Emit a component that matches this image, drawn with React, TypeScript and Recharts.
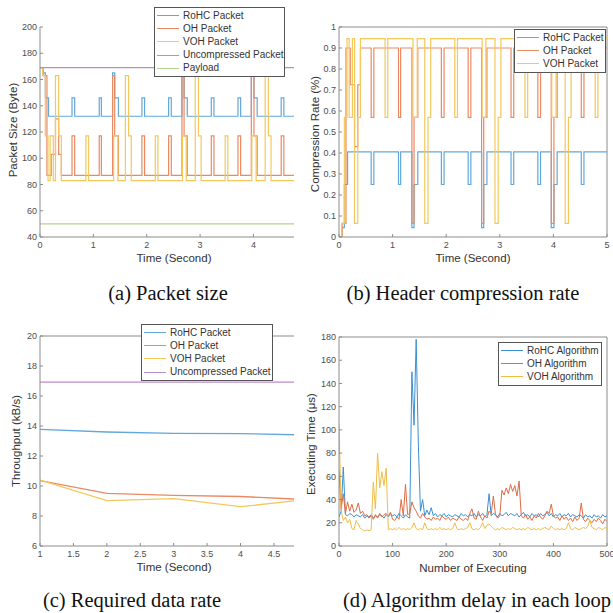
import React from "react";
import { LineChart, Line, XAxis, YAxis, ReferenceLine } from "recharts";

const SANS = '"Liberation Sans", Arial, Helvetica, sans-serif';
const SERIF = '"Liberation Serif", "Times New Roman", serif';

const BLUE = "#62a8db";
const ORANGE = "#e98a62";
const YELLOW = "#f4c85c";
const PURPLE = "#bb8ccb";
const GREEN = "#b3d38e";
const BLUE_D = "#3b8fd0";
const ORANGE_D = "#dd6c45";
const YELLOW_D = "#efbd45";
const AXIS = "#8c8c8c";
const TICK = "#4d4d4d";

// (a) + (b): step breakpoints (time in seconds)
const ROHC_T = [0, 0.05, 0.1, 0.16, 0.6, 0.65, 1.11, 1.15, 1.36, 1.4, 1.47, 1.91, 1.96, 2.41, 2.46, 2.66, 2.7, 2.76, 3.21, 3.26, 3.71, 3.76, 3.96, 4.01, 4.07, 4.52, 4.57, 5];
const ROHC_SIZE = [169, 165, 146, 132, 146, 132, 146, 132, 165, 146, 132, 146, 132, 146, 132, 165, 146, 132, 146, 132, 146, 132, 165, 146, 132, 146, 132, 132];
const ROHC_RATE = [0, 0.045, 0.25, 0.405, 0.25, 0.405, 0.25, 0.405, 0.045, 0.25, 0.405, 0.25, 0.405, 0.25, 0.405, 0.045, 0.25, 0.405, 0.25, 0.405, 0.25, 0.405, 0.045, 0.25, 0.405, 0.25, 0.405, 0.405];

const OH_T = [0, 0.06, 0.13, 0.21, 0.29, 0.35, 0.4, 0.6, 0.65, 1.11, 1.15, 1.36, 1.4, 1.47, 1.91, 1.96, 2.41, 2.46, 2.66, 2.7, 2.76, 3.21, 3.26, 3.71, 3.76, 3.96, 4.01, 4.07, 4.52, 4.57, 5];
const OH_SIZE = [169, 163, 87, 103, 130, 103, 87, 117, 87, 117, 87, 163, 117, 87, 117, 87, 117, 87, 163, 117, 87, 117, 87, 117, 87, 163, 117, 87, 117, 87, 87];
const OH_RATE = [0, 0.065, 0.9, 0.725, 0.43, 0.725, 0.9, 0.57, 0.9, 0.57, 0.9, 0.065, 0.57, 0.9, 0.57, 0.9, 0.57, 0.9, 0.065, 0.57, 0.9, 0.57, 0.9, 0.57, 0.9, 0.065, 0.57, 0.9, 0.57, 0.9, 0.9];

const VOH_T = [0, 0.05, 0.1, 0.15, 0.19, 0.25, 0.29, 0.35, 0.4, 0.86, 0.91, 1.38, 1.46, 1.6, 1.66, 1.71, 2.16, 2.21, 2.67, 2.74, 2.91, 2.97, 3.02, 3.47, 3.52, 3.97, 4.05, 4.22, 4.28, 4.33, 4.78, 4.83, 5];
const VOH_SIZE = [169, 163, 117, 83, 117, 83, 163, 117, 83, 117, 83, 117, 83, 163, 117, 83, 117, 83, 117, 83, 163, 117, 83, 117, 83, 117, 83, 163, 117, 83, 117, 83, 83];
const VOH_RATE = [0, 0.065, 0.57, 0.945, 0.57, 0.945, 0.065, 0.57, 0.945, 0.57, 0.945, 0.57, 0.945, 0.065, 0.57, 0.945, 0.57, 0.945, 0.57, 0.945, 0.065, 0.57, 0.945, 0.57, 0.945, 0.57, 0.945, 0.065, 0.57, 0.945, 0.57, 0.945, 0.945];

const FLAT_T = [0, 5];
const UNCOMP_SIZE = [169, 169];
const PAYLOAD_SIZE = [50, 50];

// (c) throughput
const THR_T = [1, 2, 3, 4, 5];
const ROHC_THR = [13.78, 13.6, 13.51, 13.49, 13.4];
const OH_THR = [10.36, 9.51, 9.38, 9.3, 9.09];
const VOH_THR = [10.4, 9.02, 9.16, 8.62, 9.1];
const UNCOMP_THR = [16.93, 16.93, 16.93, 16.93, 16.93];

// (d) executing time, one value every 4 runs
const ROHC_EXEC = [
  25, 30, 68, 27, 26, 28, 27, 25, 27, 26,
  25, 27, 24, 26, 25, 27, 24, 26, 25, 27,
  26, 24, 27, 25, 28, 26, 27, 25, 28, 26,
  24, 27, 25, 24, 150, 104, 178, 88, 30, 40,
  26, 31, 27, 33, 26, 28, 25, 27, 26, 28,
  25, 27, 26, 25, 27, 26, 25, 28, 26, 27,
  25, 27, 26, 28, 25, 27, 26, 28, 25, 27,
  45, 26, 28, 27, 25, 28, 26, 27, 29, 26,
  28, 27, 26, 28, 25, 27, 29, 26, 27, 25,
  28, 26, 27, 25, 28, 26, 27, 29, 26, 28,
  25, 27, 26, 28, 25, 27, 26, 28, 25, 27,
  26, 25, 27, 26, 24, 27, 25, 26, 24, 27,
  25, 26, 24, 27, 25, 26,
];
const OH_EXEC = [
  65, 32, 45, 28, 38, 30, 36, 29, 31, 37,
  28, 30, 26, 27, 24, 26, 23, 27, 24, 28,
  25, 27, 28, 26, 29, 23, 22, 25, 23, 40,
  26, 53, 27, 28, 38, 33, 30, 26, 24, 28,
  25, 23, 24, 22, 25, 23, 24, 22, 26, 24,
  23, 25, 22, 24, 23, 22, 25, 23, 22, 24,
  22, 28, 32, 24, 23, 30, 25, 22, 26, 24,
  30, 28, 43, 27, 24, 26, 48, 44, 50, 45,
  53, 47, 52, 43, 56, 26, 24, 27, 23, 25,
  22, 26, 24, 28, 25, 23, 26, 30, 28, 36,
  26, 24, 25, 22, 26, 23, 25, 22, 24, 21,
  25, 22, 24, 37, 23, 21, 24, 22, 20, 23,
  21, 24, 22, 19, 23, 21,
];
const VOH_EXEC = [
  105, 30, 22, 25, 20, 23, 15, 14, 22, 19,
  15, 14, 13, 14, 13, 14, 55, 32, 80, 50,
  64, 52, 67, 14, 15, 14, 15, 14, 16, 14,
  15, 14, 15, 14, 16, 20, 15, 14, 15, 14,
  20, 15, 14, 15, 14, 15, 14, 16, 14, 15,
  14, 15, 14, 15, 20, 15, 14, 15, 14, 15,
  16, 20, 15, 14, 15, 14, 16, 20, 15, 18,
  19, 17, 15, 14, 15, 14, 16, 15, 14, 15,
  14, 16, 15, 14, 15, 14, 15, 14, 16, 15,
  14, 15, 14, 15, 14, 15, 16, 15, 14, 17,
  15, 14, 15, 14, 15, 14, 15, 20, 15, 14,
  16, 15, 14, 15, 16, 15, 17, 22, 16, 15,
  14, 16, 15, 14, 16, 15,
];
const EXEC_X = ROHC_EXEC.map((_, i) => i * 4);

const SIZE_TICKS = [40, 60, 80, 100, 120, 140, 160, 180, 200];
const RATE_TICKS = [0, 0.1, 0.2, 0.3, 0.4, 0.5, 0.6, 0.7, 0.8, 0.9, 1];
const TIME_TICKS = [0, 1, 2, 3, 4, 5];
const THR_X_TICKS = [1, 1.5, 2, 2.5, 3, 3.5, 4, 4.5];
const THR_Y_TICKS = [6, 8, 10, 12, 14, 16, 18, 20];
const EXEC_X_TICKS = [0, 100, 200, 300, 400, 500];
const EXEC_Y_TICKS = [0, 20, 40, 60, 80, 100, 120, 140, 160, 180];

const pts = (xs: number[], ys: number[]) => xs.map((x, i) => ({ x, y: ys[i] }));

const execData = EXEC_X.map((x, i) => ({
  x,
  rohc: ROHC_EXEC[i],
  oh: OH_EXEC[i],
  voh: VOH_EXEC[i],
}));

const tickStyle = { fill: TICK, fontSize: 9, fontFamily: SANS };

// axes get 1px of size (0 makes recharts skip them); margins absorb the rest
const xAxisProps = {
  type: "number" as const,
  dataKey: "x",
  height: 1,
  stroke: AXIS,
  tickSize: -3,
  tickMargin: 8,
  interval: 0 as const,
  allowDataOverflow: true,
  tick: tickStyle,
};
const yAxisProps = {
  type: "number" as const,
  width: 1,
  stroke: AXIS,
  tickSize: -3,
  tickMargin: 6,
  interval: 0 as const,
  allowDataOverflow: true,
  tick: tickStyle,
};

const stepLine = (key: string, data: { x: number; y: number }[], color: string) => (
  <Line
    key={key}
    data={data}
    dataKey="y"
    type="stepAfter"
    stroke={color}
    strokeWidth={1.2}
    dot={false}
    activeDot={false}
    isAnimationActive={false}
  />
);

const Title = ({ x, y, text, rotate }: { x: number; y: number; text: string; rotate?: boolean }) => (
  <div
    style={{
      position: "absolute",
      left: x,
      top: y,
      transform: `translate(-50%, -50%)${rotate ? " rotate(-90deg)" : ""}`,
      whiteSpace: "nowrap",
      fontFamily: SANS,
      fontSize: 11.5,
      color: "#333",
      lineHeight: 1,
    }}
  >
    {text}
  </div>
);

const Caption = ({ x, y, text }: { x: number; y: number; text: string }) => (
  <div
    style={{
      position: "absolute",
      left: x,
      top: y,
      transform: "translate(-50%, -50%)",
      whiteSpace: "nowrap",
      fontFamily: SERIF,
      fontSize: 20.5,
      color: "#111",
      lineHeight: 1,
    }}
  >
    {text}
  </div>
);

const LegendBox = ({
  left,
  top,
  width,
  items,
}: {
  left: number;
  top: number;
  width: number;
  items: { label: string; color: string }[];
}) => (
  <div
    style={{
      position: "absolute",
      left,
      top,
      width,
      boxSizing: "border-box",
      border: "1px solid #555",
      background: "#fff",
      padding: "1px 0",
    }}
  >
    {items.map((it) => (
      <div key={it.label} style={{ display: "flex", alignItems: "center", height: 13.2 }}>
        <div style={{ width: 22, marginLeft: 2, marginRight: 4, borderTop: `1.5px solid ${it.color}` }} />
        <span style={{ fontFamily: SANS, fontSize: 10, color: "#333", whiteSpace: "nowrap", lineHeight: 1 }}>
          {it.label}
        </span>
      </div>
    ))}
  </div>
);

function PacketSize() {
  return (
    <LineChart width={306} height={280} margin={{ top: 27, right: 12, bottom: 42, left: 39 }}>
      <XAxis {...xAxisProps} domain={[0, 4.76]} ticks={TIME_TICKS.slice(0, 5)} />
      <YAxis {...yAxisProps} domain={[40, 200]} ticks={SIZE_TICKS} />
      {stepLine("rohc", pts(ROHC_T, ROHC_SIZE), BLUE)}
      {stepLine("oh", pts(OH_T, OH_SIZE), ORANGE)}
      {stepLine("voh", pts(VOH_T, VOH_SIZE), YELLOW)}
      {stepLine("unc", pts(FLAT_T, UNCOMP_SIZE), PURPLE)}
      {stepLine("pay", pts(FLAT_T, PAYLOAD_SIZE), GREEN)}
    </LineChart>
  );
}

function CompressionRate() {
  return (
    <LineChart width={307} height={280} margin={{ top: 27, right: 6, bottom: 42, left: 32 }}>
      <XAxis {...xAxisProps} domain={[0, 5]} ticks={TIME_TICKS} />
      <YAxis {...yAxisProps} domain={[0, 1]} ticks={RATE_TICKS} />
      <ReferenceLine y={1} stroke={AXIS} />
      <ReferenceLine x={5} stroke={AXIS} />
      {stepLine("rohc", pts(ROHC_T, ROHC_RATE), BLUE)}
      {stepLine("oh", pts(OH_T, OH_RATE), ORANGE)}
      {stepLine("voh", pts(VOH_T, VOH_RATE), YELLOW)}
    </LineChart>
  );
}

function Throughput() {
  const line = (key: string, ys: number[], color: string) => (
    <Line
      key={key}
      data={pts(THR_T, ys)}
      dataKey="y"
      type="linear"
      stroke={color}
      strokeWidth={1.3}
      dot={false}
      activeDot={false}
      isAnimationActive={false}
    />
  );
  return (
    <LineChart width={306} height={280} margin={{ top: 36, right: 12, bottom: 33, left: 39 }}>
      <XAxis {...xAxisProps} domain={[1, 4.8]} ticks={THR_X_TICKS} />
      <YAxis {...yAxisProps} domain={[6, 20]} ticks={THR_Y_TICKS} />
      <ReferenceLine y={20} stroke={AXIS} />
      {line("rohc", ROHC_THR, BLUE)}
      {line("oh", OH_THR, ORANGE)}
      {line("voh", VOH_THR, YELLOW)}
      {line("unc", UNCOMP_THR, PURPLE)}
    </LineChart>
  );
}

function ExecTime() {
  return (
    <LineChart width={307} height={280} data={execData} margin={{ top: 37, right: 6, bottom: 33, left: 32 }}>
      <XAxis {...xAxisProps} domain={[0, 500]} ticks={EXEC_X_TICKS} />
      <YAxis {...yAxisProps} domain={[0, 180]} ticks={EXEC_Y_TICKS} />
      <ReferenceLine y={180} stroke={AXIS} />
      <ReferenceLine x={500} stroke={AXIS} />
      <Line dataKey="rohc" type="linear" stroke={BLUE_D} strokeWidth={1} dot={false} activeDot={false} isAnimationActive={false} />
      <Line dataKey="oh" type="linear" stroke={ORANGE_D} strokeWidth={1} dot={false} activeDot={false} isAnimationActive={false} />
      <Line dataKey="voh" type="linear" stroke={YELLOW_D} strokeWidth={1} dot={false} activeDot={false} isAnimationActive={false} />
    </LineChart>
  );
}

export default function App() {
  return (
    <div
      style={{
        position: "absolute",
        left: 0,
        top: 0,
        width: 613,
        height: 613,
        background: "#fff",
        overflow: "hidden",
      }}
    >
      <div style={{ position: "absolute", left: 0, top: 0 }}>
        <PacketSize />
      </div>
      <div style={{ position: "absolute", left: 306, top: 0 }}>
        <CompressionRate />
      </div>
      <div style={{ position: "absolute", left: 0, top: 300 }}>
        <Throughput />
      </div>
      <div style={{ position: "absolute", left: 306, top: 300 }}>
        <ExecTime />
      </div>

      <Title x={174} y={259} text="Time (Second)" />
      <Title x={14} y={130} text="Packet Size (Byte)" rotate />
      <Title x={473} y={259} text="Time (Second)" />
      <Title x={316} y={134} text="Compression Rate (%)" rotate />
      <Title x={174} y={568} text="Time (Second)" />
      <Title x={17} y={441} text="Throughput (kB/s)" rotate />
      <Title x={473} y={569} text="Number of Executing" />
      <Title x={312} y={444} text="Executing Time (μs)" rotate />

      <LegendBox
        left={154}
        top={7}
        width={131}
        items={[
          { label: "RoHC Packet", color: BLUE },
          { label: "OH Packet", color: ORANGE },
          { label: "VOH Packet", color: YELLOW },
          { label: "Uncompressed Packet", color: PURPLE },
          { label: "Payload", color: GREEN },
        ]}
      />
      <LegendBox
        left={514}
        top={29}
        width={92}
        items={[
          { label: "RoHC Packet", color: BLUE },
          { label: "OH Packet", color: ORANGE },
          { label: "VOH Packet", color: YELLOW },
        ]}
      />
      <LegendBox
        left={141}
        top={324}
        width={132}
        items={[
          { label: "RoHC Packet", color: BLUE },
          { label: "OH Packet", color: ORANGE },
          { label: "VOH Packet", color: YELLOW },
          { label: "Uncompressed Packet", color: PURPLE },
        ]}
      />
      <LegendBox
        left={498}
        top={342}
        width={104}
        items={[
          { label: "RoHC Algorithm", color: BLUE_D },
          { label: "OH Algorithm", color: ORANGE_D },
          { label: "VOH Algorithm", color: YELLOW_D },
        ]}
      />

      <Caption x={168} y={293} text="(a) Packet size" />
      <Caption x={463} y={293} text="(b) Header compression rate" />
      <Caption x={132} y={600} text="(c) Required data rate" />
      <Caption x={477} y={600} text="(d) Algorithm delay in each loop" />
    </div>
  );
}
